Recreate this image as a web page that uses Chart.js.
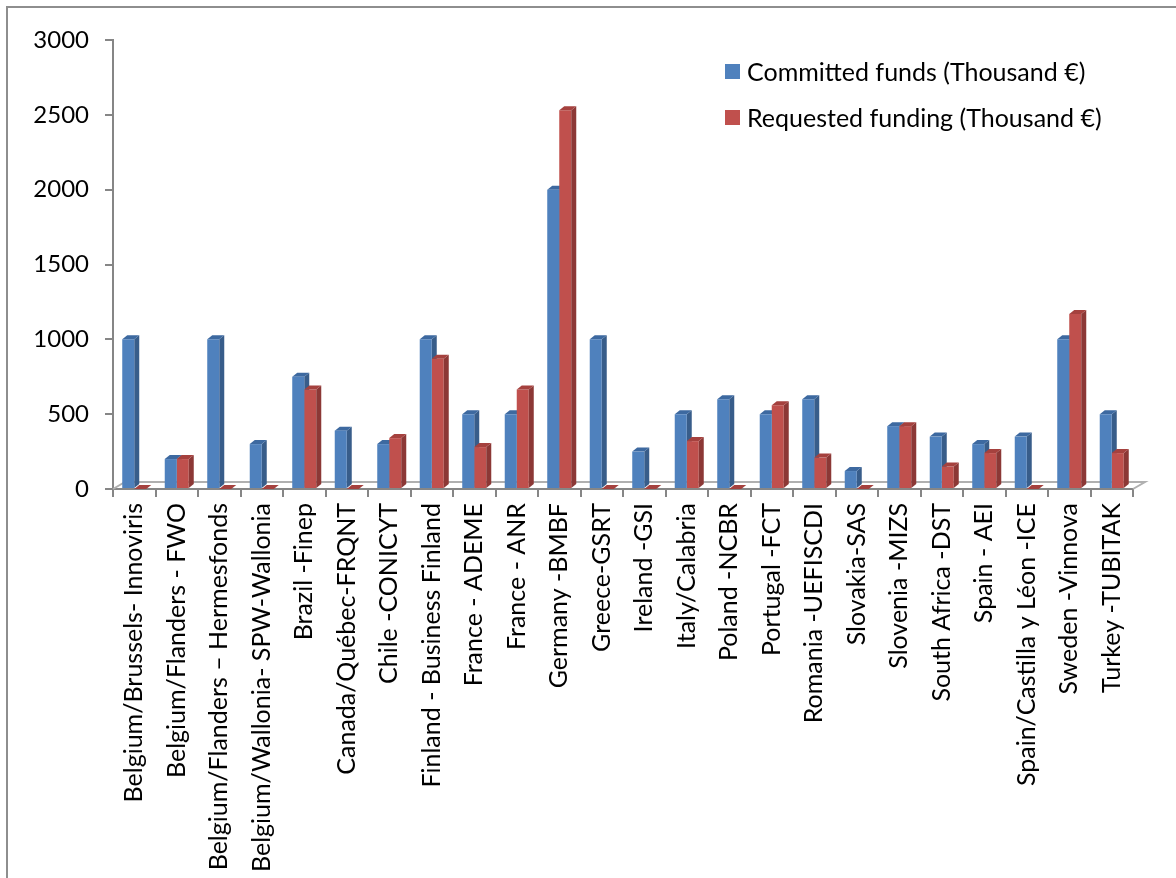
<!DOCTYPE html>
<html>
<head>
<meta charset="utf-8">
<script src="https://cdn.jsdelivr.net/npm/chart.js@4.4.1/dist/chart.umd.min.js"></script>
<style>
  body { margin: 0; background: #fff; overflow: hidden; }
  #wrap { position: relative; width: 1176px; height: 878px; }
  #frame {
    position: absolute; left: 6px; top: 6px; width: 1200px; height: 900px;
    border: 2px solid #8e8e8e; box-sizing: border-box;
  }
  canvas { position: absolute; left: 0; top: 0; }
  .legend { position: absolute; left: 725px; font: 25px Lato, sans-serif; color: #000; }
  .legend div { height: 46px; display: flex; align-items: center; white-space: nowrap; }
  .legend span.box { display: inline-block; width: 15px; height: 15px; margin-right: 7px; }
</style>
</head>
<body>
<div id="wrap">
  <div id="frame"></div>
  <canvas id="chart" width="1176" height="878"></canvas>
  <div class="legend" id="legend" style="top:48px"></div>
</div>
<script>
const categories = [
  "Belgium/Brussels- Innoviris",
  "Belgium/Flanders - FWO",
  "Belgium/Flanders – Hermesfonds",
  "Belgium/Wallonia- SPW-Wallonia",
  "Brazil -Finep",
  "Canada/Québec-FRQNT",
  "Chile -CONICYT",
  "Finland - Business Finland",
  "France - ADEME",
  "France - ANR",
  "Germany -BMBF",
  "Greece-GSRT",
  "Ireland -GSI",
  "Italy/Calabria",
  "Poland -NCBR",
  "Portugal -FCT",
  "Romania -UEFISCDI",
  "Slovakia-SAS",
  "Slovenia -MIZS",
  "South Africa -DST",
  "Spain - AEI",
  "Spain/Castilla y Léon -ICE",
  "Sweden -Vinnova",
  "Turkey -TUBITAK"
];

const committed = [1000, 200, 1000, 300, 750, 390, 300, 1000, 500, 500, 2000, 1000, 250, 500, 600, 500, 600, 120, 420, 350, 300, 350, 1000, 500];
const requested = [0, 200, 0, 0, 665, 0, 340, 870, 280, 665, 2530, 0, 0, 320, 0, 560, 210, 0, 420, 150, 240, 0, 1170, 240];

const seriesNames = ["Committed funds (Thousand €)", "Requested funding (Thousand €)"];
const frontColors = ["#4F81BD", "#C0504D"];
const sideColors = ["#385D8A", "#8C3836"];
const topColors = ["#3D69A0", "#A5413E"];

const DX = 5, DY = 4;

function drawFaces(chart, dsIndex) {
  const ctx = chart.ctx;
  const meta = chart.getDatasetMeta(dsIndex);
  ctx.save();
  meta.data.forEach(bar => {
    const p = bar.getProps(["x", "y", "base", "width"], true);
    const l = p.x - p.width / 2, r = p.x + p.width / 2;
    // side face
    ctx.fillStyle = sideColors[dsIndex];
    ctx.beginPath();
    ctx.moveTo(r, p.y);
    ctx.lineTo(r + DX, p.y - DY);
    ctx.lineTo(r + DX, p.base - DY);
    ctx.lineTo(r, p.base);
    ctx.closePath();
    ctx.fill();
    // top face
    ctx.fillStyle = topColors[dsIndex];
    ctx.beginPath();
    ctx.moveTo(l, p.y);
    ctx.lineTo(l + DX, p.y - DY);
    ctx.lineTo(r + DX, p.y - DY);
    ctx.lineTo(r, p.y);
    ctx.closePath();
    ctx.fill();
  });
  ctx.restore();
}

const bars3d = {
  id: "bars3d",
  beforeDatasetsDraw(chart) {
    const ctx = chart.ctx;
    const a = chart.chartArea;
    // floor
    ctx.save();
    ctx.strokeStyle = "#b0b0b0";
    ctx.lineWidth = 2;
    ctx.beginPath();
    ctx.moveTo(a.left, a.bottom);
    ctx.lineTo(a.left + 12, a.bottom - 7);
    ctx.lineTo(a.right + 12, a.bottom - 7);
    ctx.lineTo(a.right, a.bottom);
    ctx.stroke();
    ctx.restore();
    drawFaces(chart, 0);
  },
  afterDatasetsDraw(chart) {
    drawFaces(chart, 1);
  }
};

const yFont = { family: "Lato, sans-serif", size: 24 };
const xFont = { family: "Lato, sans-serif", size: 25 };

new Chart(document.getElementById("chart"), {
  type: "bar",
  data: {
    labels: categories,
    datasets: [
      { label: seriesNames[0], data: committed, backgroundColor: frontColors[0] },
      { label: seriesNames[1], data: requested, backgroundColor: frontColors[1] }
    ]
  },
  options: {
    responsive: false,
    animation: false,
    devicePixelRatio: 1,
    layout: { padding: { top: 40, right: 43, left: 0, bottom: 0 } },
    datasets: { bar: { categoryPercentage: 0.565, barPercentage: 1.0 } },
    plugins: { legend: { display: false }, tooltip: { enabled: false } },
    scales: {
      x: {
        grid: { display: true, drawOnChartArea: false, offset: true, color: "#868686", tickLength: 8, lineWidth: 2 },
        border: { color: "#868686", width: 2 },
        ticks: { color: "#000", font: xFont, minRotation: 90, maxRotation: 90, padding: 6, autoSkip: false },
        afterFit(scale) { scale.height = 389; }
      },
      y: {
        min: 0,
        max: 3000,
        grid: { display: true, drawOnChartArea: false, color: "#868686", tickLength: 8, lineWidth: 2 },
        border: { color: "#868686", width: 2 },
        ticks: { stepSize: 500, color: "#000", font: yFont, padding: 16, callback: v => String(v) },
        afterFit(scale) { scale.width = 113; }
      }
    }
  },
  plugins: [bars3d]
});

const legend = document.getElementById("legend");
seriesNames.forEach((name, i) => {
  const row = document.createElement("div");
  const box = document.createElement("span");
  box.className = "box";
  box.style.background = frontColors[i];
  row.appendChild(box);
  row.appendChild(document.createTextNode(name));
  legend.appendChild(row);
});
</script>
</body>
</html>
